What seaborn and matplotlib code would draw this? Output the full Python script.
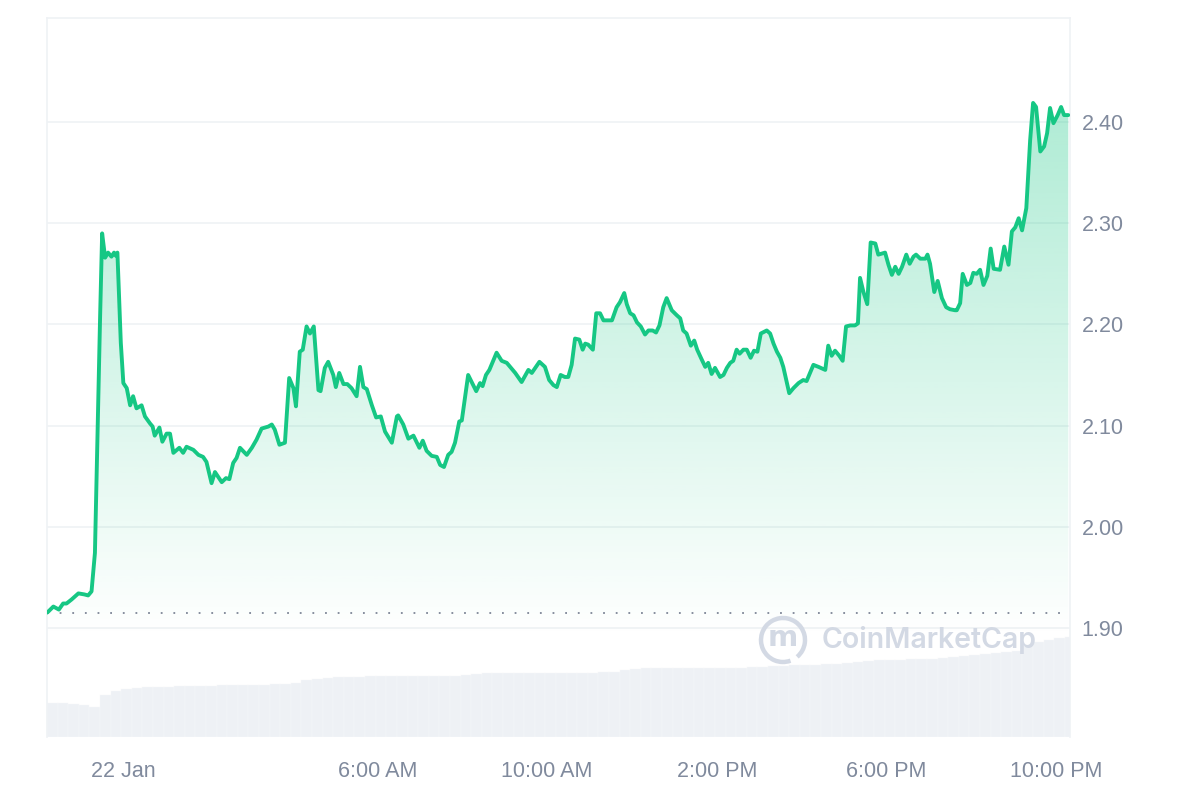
import numpy as np
import pandas as pd
import matplotlib
matplotlib.use("Agg")
import matplotlib.pyplot as plt
from matplotlib.patches import Arc, PathPatch
from matplotlib.path import Path
import seaborn as sns

# price trace, hours relative to midnight of 22 Jan
hours = [
    -1.79, -1.76, -1.64, -1.51, -1.41, -1.33, -1.21, -1.05, -0.91, -0.82,
    -0.74, -0.66, -0.54, -0.49, -0.42, -0.35, -0.27, -0.21, -0.17, -0.13,
    -0.05, 0.01, 0.09, 0.17, 0.24, 0.32, 0.44, 0.52, 0.64, 0.70,
    0.75, 0.86, 0.93, 1.03, 1.11, 1.19, 1.33, 1.42, 1.50, 1.66,
    1.78, 1.89, 1.97, 2.09, 2.17, 2.33, 2.43, 2.51, 2.60, 2.68,
    2.76, 2.92, 3.04, 3.15, 3.27, 3.43, 3.51, 3.58, 3.69, 3.82,
    3.92, 4.02, 4.08, 4.17, 4.24, 4.33, 4.41, 4.50, 4.61, 4.66,
    4.76, 4.84, 4.96, 5.02, 5.10, 5.20, 5.29, 5.39, 5.51, 5.59,
    5.67, 5.75, 5.87, 5.97, 6.08, 6.18, 6.34, 6.46, 6.49, 6.61,
    6.73, 6.85, 6.99, 7.07, 7.16, 7.28, 7.40, 7.48, 7.57, 7.67,
    7.75, 7.83, 7.93, 7.99, 8.14, 8.33, 8.42, 8.48, 8.56, 8.64,
    8.81, 8.93, 9.05, 9.13, 9.25, 9.40, 9.56, 9.64, 9.82, 9.95,
    10.05, 10.15, 10.23, 10.32, 10.42, 10.50, 10.58, 10.66, 10.76, 10.84,
    10.90, 10.97, 11.08, 11.16, 11.25, 11.33, 11.42, 11.53, 11.64, 11.72,
    11.82, 11.88, 11.96, 12.04, 12.12, 12.21, 12.31, 12.39, 12.49, 12.57,
    12.65, 12.74, 12.82, 12.94, 13.06, 13.14, 13.21, 13.29, 13.39, 13.47,
    13.54, 13.65, 13.73, 13.80, 13.88, 13.96, 14.08, 14.16, 14.24, 14.32,
    14.39, 14.47, 14.54, 14.63, 14.71, 14.80, 14.88, 14.96, 15.04, 15.18,
    15.26, 15.34, 15.42, 15.50, 15.57, 15.64, 15.71, 15.81, 15.93, 16.04,
    16.12, 16.28, 16.40, 16.56, 16.63, 16.71, 16.79, 16.89, 16.97, 17.05,
    17.15, 17.26, 17.33, 17.38, 17.46, 17.55, 17.63, 17.74, 17.81, 17.89,
    17.97, 18.05, 18.13, 18.21, 18.29, 18.37, 18.47, 18.55, 18.64, 18.70,
    18.80, 18.92, 18.97, 19.03, 19.13, 19.21, 19.31, 19.41, 19.50, 19.62,
    19.66, 19.74, 19.80, 19.90, 19.98, 20.05, 20.13, 20.21, 20.29, 20.38,
    20.46, 20.53, 20.68, 20.78, 20.88, 20.96, 21.04, 21.12, 21.20, 21.30,
    21.39, 21.46, 21.53, 21.63, 21.72, 21.79, 21.86, 21.94, 22.04, 22.12,
    22.19, 22.29,
]

prices = [
    1.915, 1.916, 1.921, 1.918, 1.924, 1.924, 1.928, 1.934, 1.933, 1.932,
    1.936, 1.974, 2.204, 2.290, 2.266, 2.271, 2.267, 2.271, 2.268, 2.271,
    2.182, 2.142, 2.137, 2.120, 2.129, 2.117, 2.120, 2.109, 2.102, 2.099,
    2.090, 2.098, 2.084, 2.092, 2.092, 2.073, 2.078, 2.073, 2.079, 2.076,
    2.071, 2.069, 2.064, 2.043, 2.054, 2.044, 2.048, 2.047, 2.063, 2.068,
    2.078, 2.071, 2.078, 2.086, 2.097, 2.099, 2.101, 2.096, 2.081, 2.083,
    2.147, 2.137, 2.119, 2.173, 2.175, 2.198, 2.191, 2.198, 2.135, 2.134,
    2.157, 2.163, 2.150, 2.138, 2.152, 2.141, 2.141, 2.137, 2.129, 2.158,
    2.138, 2.136, 2.120, 2.108, 2.109, 2.094, 2.083, 2.109, 2.110, 2.101,
    2.087, 2.090, 2.078, 2.085, 2.075, 2.070, 2.069, 2.061, 2.059, 2.071,
    2.074, 2.083, 2.104, 2.105, 2.150, 2.134, 2.142, 2.139, 2.150, 2.155,
    2.172, 2.164, 2.162, 2.158, 2.152, 2.143, 2.155, 2.152, 2.163, 2.158,
    2.145, 2.140, 2.138, 2.150, 2.148, 2.148, 2.160, 2.186, 2.185, 2.175,
    2.181, 2.180, 2.175, 2.211, 2.211, 2.204, 2.204, 2.204, 2.217, 2.222,
    2.231, 2.220, 2.211, 2.209, 2.202, 2.198, 2.190, 2.194, 2.194, 2.192,
    2.199, 2.217, 2.226, 2.214, 2.209, 2.206, 2.194, 2.191, 2.179, 2.184,
    2.175, 2.165, 2.158, 2.162, 2.151, 2.157, 2.148, 2.150, 2.157, 2.162,
    2.164, 2.175, 2.171, 2.175, 2.175, 2.167, 2.174, 2.173, 2.191, 2.194,
    2.191, 2.181, 2.173, 2.167, 2.158, 2.145, 2.132, 2.137, 2.142, 2.145,
    2.144, 2.160, 2.158, 2.155, 2.179, 2.169, 2.174, 2.169, 2.164, 2.198,
    2.199, 2.199, 2.201, 2.246, 2.232, 2.220, 2.281, 2.280, 2.269, 2.270,
    2.271, 2.259, 2.249, 2.257, 2.250, 2.257, 2.269, 2.260, 2.267, 2.269,
    2.265, 2.265, 2.269, 2.260, 2.232, 2.243, 2.226, 2.217, 2.215, 2.214,
    2.214, 2.221, 2.250, 2.239, 2.241, 2.251, 2.250, 2.254, 2.239, 2.248,
    2.275, 2.255, 2.254, 2.277, 2.259, 2.292, 2.296, 2.305, 2.293, 2.315,
    2.382, 2.419, 2.415, 2.371, 2.376, 2.389, 2.414, 2.399, 2.407, 2.415,
    2.407, 2.407,
]

open_price = 1.915

# 24h volume, 15 minute bars (relative units)
volume = [
    34, 34, 33, 32, 30, 42, 46, 48, 49, 50,
    50, 50, 51, 51, 51, 51,
    52, 52, 52, 52, 52, 53, 53, 54,
    57, 58, 59, 60,
    60, 60, 61, 61, 61, 61, 61, 61, 61, 61, 61, 62,
    63, 64, 64, 64, 64, 64, 64, 64, 64, 64, 64, 64, 65, 65,
    67, 68, 69, 69, 69, 69, 69, 69, 69, 69, 69, 69, 70, 70,
    71, 71, 72, 72, 72, 73, 73, 74,
    75, 76, 77, 77, 77, 78, 78, 78, 79, 80,
    81, 82, 83, 84, 85, 86,
    92, 95, 97, 99, 100,
]

tick_hours = [0, 6, 10, 14, 18, 22]
tick_labels = ["22 Jan", "6:00 AM", "10:00 AM", "2:00 PM", "6:00 PM", "10:00 PM"]
price_ticks = [1.90, 2.00, 2.10, 2.20, 2.30, 2.40]

green = "#16c784"
label_col = "#808a9d"
grid_col = "#eff2f5"

sns.set_theme(style="white")
plt.rcParams["font.family"] = ["Liberation Sans", "DejaVu Sans"]

fig = plt.figure(figsize=(12, 8), dpi=100)
ax = fig.add_axes([47 / 1200, 63 / 800, 1023 / 1200, 719 / 800])
ax2 = ax.twinx()
ax.set_zorder(ax2.get_zorder() + 1)
ax.patch.set_visible(False)

xmin, xmax = -1.79, 22.33
ymin, ymax = 1.792, 2.503

# volume bars behind
vol_x = xmin + 0.25 * np.arange(len(volume))
ax2.bar(vol_x, volume, width=0.25, align="edge", color="#eef1f5",
        edgecolor="#f7f8fa", linewidth=0.3)
ax2.set_ylim(0, 719)
ax2.set_xlim(xmin, xmax)
ax2.axis("off")

# gradient fill under price
df = pd.DataFrame({"hour": hours, "price": prices})
grad = np.linspace(ymax, ymin, 300)
alpha = np.clip(0.65 * (grad - 1.89), 0, 1)
rgba = np.zeros((300, 1, 4))
rgba[..., 0] = 22 / 255
rgba[..., 1] = 199 / 255
rgba[..., 2] = 132 / 255
rgba[:, 0, 3] = alpha
im = ax.imshow(rgba, extent=[xmin, xmax, ymin, ymax], aspect="auto",
               origin="upper", zorder=1)
verts = list(zip(df["hour"], df["price"]))
verts = [(df["hour"].iloc[0], ymin)] + verts + [(df["hour"].iloc[-1], ymin)]
clip = PathPatch(Path(verts), transform=ax.transData, facecolor="none",
                 edgecolor="none")
ax.add_patch(clip)
im.set_clip_path(clip)

sns.lineplot(data=df, x="hour", y="price", ax=ax, color=green,
             linewidth=2.8, zorder=3, sort=False)

ax.axhline(open_price, color="#7d8596", linestyle=(0, (1, 6)),
           linewidth=1.3, zorder=2)

ax.set_xlim(xmin, xmax)
ax.set_ylim(ymin, ymax)
ax.set_yticks(price_ticks)
ax.set_yticklabels([f"{v:.2f}" for v in price_ticks])
ax.yaxis.tick_right()
ax.set_xticks(tick_hours)
ax.set_xticklabels(tick_labels)
ax.tick_params(axis="both", length=0, labelsize=15.5, labelcolor=label_col)
ax.tick_params(axis="y", pad=8.5)
ax.tick_params(axis="x", pad=17)
ax.set_xlabel("")
ax.set_ylabel("")
ax.grid(axis="y", color=grid_col, linewidth=1.2)
ax.grid(axis="x", visible=False)

for side in ["left", "top", "right"]:
    ax.spines[side].set_color(grid_col)
    ax.spines[side].set_linewidth(1.2)
ax.spines["bottom"].set_visible(False)
for side in ax2.spines:
    ax2.spines[side].set_visible(False)

# watermark
wm = "#d3d9e4"
logo = Arc((7.83, 1.60), 0.44, 0.44, theta1=-50, theta2=290,
           transform=fig.dpi_scale_trans, color=wm, linewidth=3.2, zorder=5)
fig.add_artist(logo)
fig.text(7.83 / 12, 1.62 / 8, "m", color=wm, fontsize=21, ha="center",
         va="center", fontweight="bold", family="DejaVu Sans")
fig.text(822 / 1200, 1.60 / 8, "CoinMarketCap", color=wm, fontsize=20.5,
         ha="left", va="center", fontweight="semibold",
         family=["Inter", "DejaVu Sans"])

plt.savefig("out.png", dpi=100)
